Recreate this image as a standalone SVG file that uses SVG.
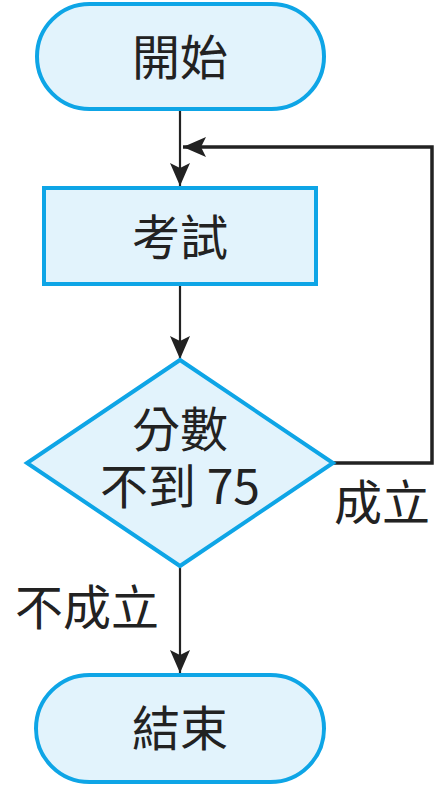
<svg xmlns="http://www.w3.org/2000/svg" width="446" height="798" viewBox="0 0 446 798">
<style>
.node{fill:#e2f3fc;stroke:#0ea5e6;stroke-width:4}
.t{font-family:"Noto Sans CJK TC","Noto Sans",sans-serif;font-size:48px;fill:#222;text-anchor:middle}
.l{font-family:"Noto Sans CJK TC","Noto Sans",sans-serif;font-size:48px;fill:#222}
.c{fill:none;stroke:#222;stroke-width:2.2}
.fb{fill:none;stroke:#222;stroke-width:3.5}
</style>
<defs>
<marker id="ah" markerUnits="userSpaceOnUse" markerWidth="26" markerHeight="22" refX="23" refY="10" orient="auto">
<path d="M0,0 L23,10 L0,20 L5,10 Z" fill="#222"/>
</marker>
</defs>
<rect width="446" height="798" fill="#fff"/>
<g id="connectors">
<line class="c" x1="180" y1="110" x2="180" y2="186" marker-end="url(#ah)"/>
<line class="c" x1="180" y1="285" x2="180" y2="359" marker-end="url(#ah)"/>
<line class="c" x1="180" y1="566" x2="180" y2="673" marker-end="url(#ah)"/>
<polyline class="fb" points="333,463 432,463 432,147 183,147" marker-end="url(#ah)"/>
</g>
<g id="start"><rect class="node" x="37" y="4" width="287" height="105" rx="52.5"/><text class="t" x="180" y="75">開始</text></g>
<g id="exam"><rect class="node" x="44" y="188" width="272" height="96"/><text class="t" x="180" y="255">考試</text></g>
<g id="decision"><polygon class="node" points="180,360 333,463 180,566 27,463"/><text class="t"><tspan x="180" y="447">分數</tspan><tspan x="180" y="504">不到 75</tspan></text></g>
<g id="end"><rect class="node" x="36" y="675" width="288" height="107" rx="53.5"/><text class="t" x="180" y="746">結束</text></g>
<g id="labels"><text class="l" x="334" y="520">成立</text><text class="l" x="15" y="625">不成立</text></g>
</svg>
